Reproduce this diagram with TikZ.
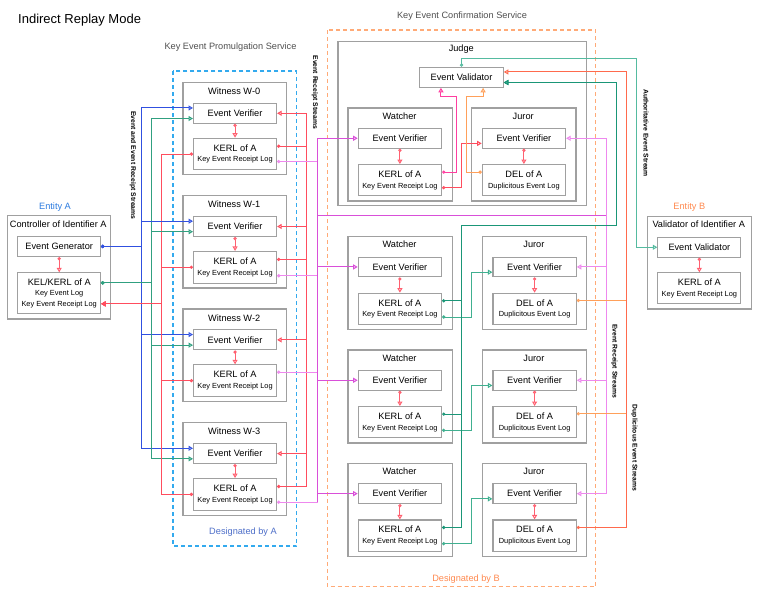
\documentclass[tikz,border=0pt]{standalone}
\usepackage{fontspec}
\setmainfont{Liberation Sans}
\usetikzlibrary{arrows.meta,calc}
\definecolor{boxgray}{HTML}{A0A0A0}
\definecolor{cblue}{HTML}{3050E0}
\definecolor{cgreen}{HTML}{30A080}
\definecolor{cgreenl}{HTML}{40B090}
\definecolor{cdgreen}{HTML}{1A9677}
\definecolor{cteal}{HTML}{55BBA0}
\definecolor{cred}{HTML}{FF4D5E}
\definecolor{credl}{HTML}{FF6070}
\definecolor{cmag}{HTML}{D94FD9}
\definecolor{cmagl}{HTML}{EE88EE}
\definecolor{cpink}{HTML}{FF3FA0}
\definecolor{corange}{HTML}{FFA05A}
\definecolor{ccoral}{HTML}{FF6A4D}
\definecolor{dblue}{HTML}{33AAEE}
\definecolor{dorange}{HTML}{FFAA77}
\definecolor{entA}{HTML}{2B7BE0}
\definecolor{desA}{HTML}{4E6FC9}
\definecolor{entB}{HTML}{FF8A50}
\definecolor{txtgray}{HTML}{505050}
\newcommand\fmain{\fontsize{9.2}{10.5}\selectfont}
\newcommand\fsmall{\fontsize{7.4}{9}\selectfont}
\newcommand\frot{\fontsize{6.8}{8}\selectfont\bfseries}
\begin{document}
\begin{tikzpicture}[x=1pt,y=-1pt,
  outerbox/.style={draw=boxgray,line width=1.2pt,fill=white,inner sep=0pt,anchor=north west},
  innerbox/.style={draw=boxgray,line width=1.1pt,fill=white,inner sep=0pt,anchor=north west,align=center,font=\fmain},
  lbl/.style={font=\fmain,inner sep=0pt},
  rot/.style={font=\frot,rotate=-90,inner sep=0pt},
  conn/.style={line width=1pt},
  tipA/.style={conn,-{Triangle[open,length=4.5pt,width=5pt]}},
  tipCA/.style={conn,{Circle[open,length=3.2pt]}-{Triangle[open,length=4.5pt,width=5pt]}},
  tipC/.style={conn,{Circle[open,length=3.2pt]}-},
]
\useasboundingbox[fill=white] (0,0) rectangle (784,600);

% titles
\node[font=\fontsize{13}{15}\selectfont,anchor=west,inner sep=0pt] (title) at (18,20) {Indirect Replay Mode};
\node[lbl,text=txtgray] (kepsT) at (230.5,47) {Key Event Promulgation Service};
\node[lbl,text=txtgray] (kecsT) at (462,16) {Key Event Confirmation Service};

% dashed service boxes
\draw[dblue,line width=1.1pt,dash pattern=on 4pt off 3pt] (173,71) rectangle (296.7,546);
\draw[dorange,line width=1.1pt,dash pattern=on 4pt off 3pt] (327.3,30) rectangle (595.7,586.7);
\node[lbl,text=desA] (desAT) at (243,532) {Designated by A};
\node[lbl,text=entB] (desBT) at (466,579) {Designated by B};

% controller
\node[lbl,text=entA] (entAT) at (55,206.7) {Entity A};
\node[outerbox,minimum width=103.3pt,minimum height=103.3pt] (ctrl) at (6.7,215) {};
\node[lbl] (ctrlT) at (58.3,224) {Controller of Identifier A};
\node[innerbox,minimum width=82.7pt,minimum height=20.3pt] (eg) at (17.3,235.7) {Event Generator};
\node[innerbox,minimum width=82.7pt,minimum height=41pt] (kel) at (17.3,272.3) {KEL/KERL of A\\{\fsmall Key Event Log}\\{\fsmall Key Event Receipt Log}};

% witnesses
\foreach \i/\ty in {0/81.7,1/194.9,2/308.3,3/422}{
  \node[outerbox,minimum width=103.7pt,minimum height=92.5pt] (w\i) at (182.3,\ty) {};
  \node[lbl] (wT\i) at (234.2,\ty+9.5) {Witness W-\i};
  \node[innerbox,minimum width=83pt,minimum height=20pt] (wev\i) at (193,\ty+21) {Event Verifier};
  \node[innerbox,minimum width=83pt,minimum height=31.6pt] (wk\i) at (193,\ty+56) {KERL of A\\{\fsmall Key Event Receipt Log}};
}

% judge
\node[outerbox,minimum width=248.4pt,minimum height=164.3pt] (judge) at (337.3,40.7) {};
\node[lbl] (judgeT) at (461.3,49.3) {Judge};
\node[innerbox,minimum width=83.4pt,minimum height=20pt] (jev) at (419.3,66.7) {Event Validator};

% watchers and jurors
\foreach \i/\ty/\jx in {1/107.3/471,2/236/481.7,3/349.3/481.7,4/462.7/481.7}{
  \node[outerbox,minimum width=104.4pt,minimum height=93pt] (wa\i) at (347.3,\ty) {};
  \node[lbl] (waT\i) at (399.5,\ty+8.7) {Watcher};
  \node[innerbox,minimum width=83.3pt,minimum height=19.8pt] (waev\i) at (357.7,\ty+20.5) {Event Verifier};
  \node[innerbox,minimum width=83.3pt,minimum height=31.3pt] (wak\i) at (357.7,\ty+56.7) {KERL of A\\{\fsmall Key Event Receipt Log}};
  \node[outerbox,minimum width=104.3pt,minimum height=93pt] (ju\i) at (\jx,\ty) {};
  \node[lbl] (juT\i) at (\jx+52.2,\ty+8.7) {Juror};
  \node[innerbox,minimum width=83.3pt,minimum height=19.8pt] (juev\i) at (\jx+10.7,\ty+20.5) {Event Verifier};
  \node[innerbox,minimum width=83.3pt,minimum height=31.3pt] (del\i) at (\jx+10.7,\ty+56.7) {DEL of A\\{\fsmall Duplicitous Event Log}};
}

% validator
\node[lbl,text=entB] (entBT) at (689.3,206.7) {Entity B};
\node[outerbox,minimum width=104pt,minimum height=92.6pt] (val) at (646.7,215.7) {};
\node[lbl] (valT) at (698.7,224.3) {Validator of Identifier A};
\node[innerbox,minimum width=83pt,minimum height=20pt] (vev) at (657.3,236.7) {Event Validator};
\node[innerbox,minimum width=83pt,minimum height=31pt] (vk) at (657.3,272.3) {KERL of A\\{\fsmall Key Event Receipt Log}};

% rotated labels
\node[rot] (r1) at (133,165.5) {Event and Event Receipt Streams};
\node[rot] (r2) at (315,92.5) {Event Receipt Streams};
\node[rot] (r3) at (614.3,361) {Event Receipt Streams};
\node[rot] (r4) at (634.3,448) {Duplicitous Event Streams};
\node[rot] (r5) at (646,133) {Authoritative Event Stream};

% bus x positions
\coordinate (busB) at (141.5,0);
\coordinate (busG) at (151.5,0);
\coordinate (busR) at (161.5,0);
\coordinate (busR2) at (306.5,0);
\coordinate (busM) at (317.5,0);
\coordinate (busM2) at (606,0);
\coordinate (busT) at (636.7,0);
\coordinate (busC) at (626,0);
\coordinate (busDG) at (616,0);
\coordinate (busDG2) at (461.7,0);
\coordinate (busJ) at (471.7,0);

% controller <-> witnesses
\coordinate (kG) at ($(kel.north east)!0.25!(kel.south east)$);
\coordinate (kR) at ($(kel.north east)!0.75!(kel.south east)$);
\draw[credl,tipCA] (eg.south) -- (kel.north);
\foreach \i in {0,...,3}{
  \coordinate (bE\i) at ($(wev\i.north west)!0.25!(wev\i.south west)$);
  \coordinate (gE\i) at ($(wev\i.north west)!0.75!(wev\i.south west)$);
  \draw[cblue,tipCA] (eg.east) -| (bE\i -| busB) -- (bE\i);
  \draw[cgreen,tipCA] (kG) -| (gE\i -| busG) -- (gE\i);
  \draw[cred,tipCA] (wk\i.west) -| (kR -| busR) -- (kR);
  \draw[cred,tipA] (wev\i.east -| busR2) -- (wev\i.east);
  \draw[credl,tipCA] (wev\i.south) -- (wk\i.north);
}
% witness receipts between witnesses
\foreach \i in {0,1,3}{
  \coordinate (rk\i) at ($(wk\i.north east)!0.26!(wk\i.south east)$);
  \draw[cred,tipC] (rk\i) -- (rk\i -| busR2);
}
\draw[cred,conn] (wev0.east -| busR2) -- (rk3 -| busR2);

% receipt streams to watchers and jurors
\foreach \i/\f in {0/0.73,1/0.76,2/0.24,3/0.74}{
  \coordinate (mk\i) at ($(wk\i.north east)!\f!(wk\i.south east)$);
  \draw[cmagl,tipC] (mk\i) -- (mk\i -| busM);
}
\draw[cmag,conn] (waev1.west -| busM) -- (mk3 -| busM);
\coordinate (mh) at (0,215);
\draw[cmag,conn] (mh -| busM) -- (mh -| busM2);
\draw[cmagl,conn] (juev1.east -| busM2) -- (juev4.east -| busM2);
\foreach \i in {1,...,4}{
  \draw[cmag,tipA] (waev\i.west -| busM) -- (waev\i.west);
  \draw[cmagl,tipA] (juev\i.east -| busM2) -- (juev\i.east);
  \draw[credl,tipCA] (waev\i.south) -- (wak\i.north);
  \draw[credl,tipCA] (juev\i.south) -- (del\i.north);
}

% judge internals
\coordinate (jb1) at ($(jev.south west)!0.256!(jev.south east)$);
\coordinate (jb2) at ($(jev.south west)!0.755!(jev.south east)$);
\coordinate (jr1) at ($(jev.north east)!0.25!(jev.south east)$);
\coordinate (jr2) at ($(jev.north east)!0.75!(jev.south east)$);
\coordinate (wka1) at ($(wak1.north east)!0.25!(wak1.south east)$);
\coordinate (wkb1) at ($(wak1.north east)!0.73!(wak1.south east)$);
\coordinate (juw1) at ($(juev1.north west)!0.745!(juev1.south west)$);
\coordinate (dw1) at ($(del1.north west)!0.25!(del1.south west)$);
\draw[cpink,tipCA] (wka1) -| (456,96.7) -| (jb1);
\draw[cred,tipCA] (wkb1) -| (juw1 -| busDG2) -- (juw1);
\draw[corange,tipCA] (dw1) -| (466.7,96.7) -| (jb2);

% authoritative event stream
\coordinate (tt) at (0,58.3);
\draw[cteal,tipCA] (jev.north) -- (jev.north |- tt) -| (vev.west -| busT) -- (vev.west);
\draw[credl,tipCA] (vev.south) -- (vk.north);

% duplicitous event streams
\coordinate (d4) at ($(del4.north east)!0.25!(del4.south east)$);
\draw[ccoral,tipCA] (d4) -| (jr1 -| busC) -- (jr1);
\foreach \i in {2,3}{
  \coordinate (d\i) at ($(del\i.north east)!0.24!(del\i.south east)$);
  \draw[corange,tipC] (d\i) -- (d\i -| busC);
}

% watchers to judge and jurors
\coordinate (gh) at (0,225.7);
\foreach \i in {2,3,4}{
  \coordinate (wka\i) at ($(wak\i.north east)!0.25!(wak\i.south east)$);
  \coordinate (wkb\i) at ($(wak\i.north east)!0.75!(wak\i.south east)$);
  \coordinate (juw\i) at ($(juev\i.north west)!0.75!(juev\i.south west)$);
  \draw[cdgreen,tipCA] (wka\i) -| (gh -| busDG2) -| (jr2 -| busDG) -- (jr2);
  \draw[cgreenl,tipCA] (wkb\i) -| (juw\i -| busJ) -- (juw\i);
}
\end{tikzpicture}
\end{document}
